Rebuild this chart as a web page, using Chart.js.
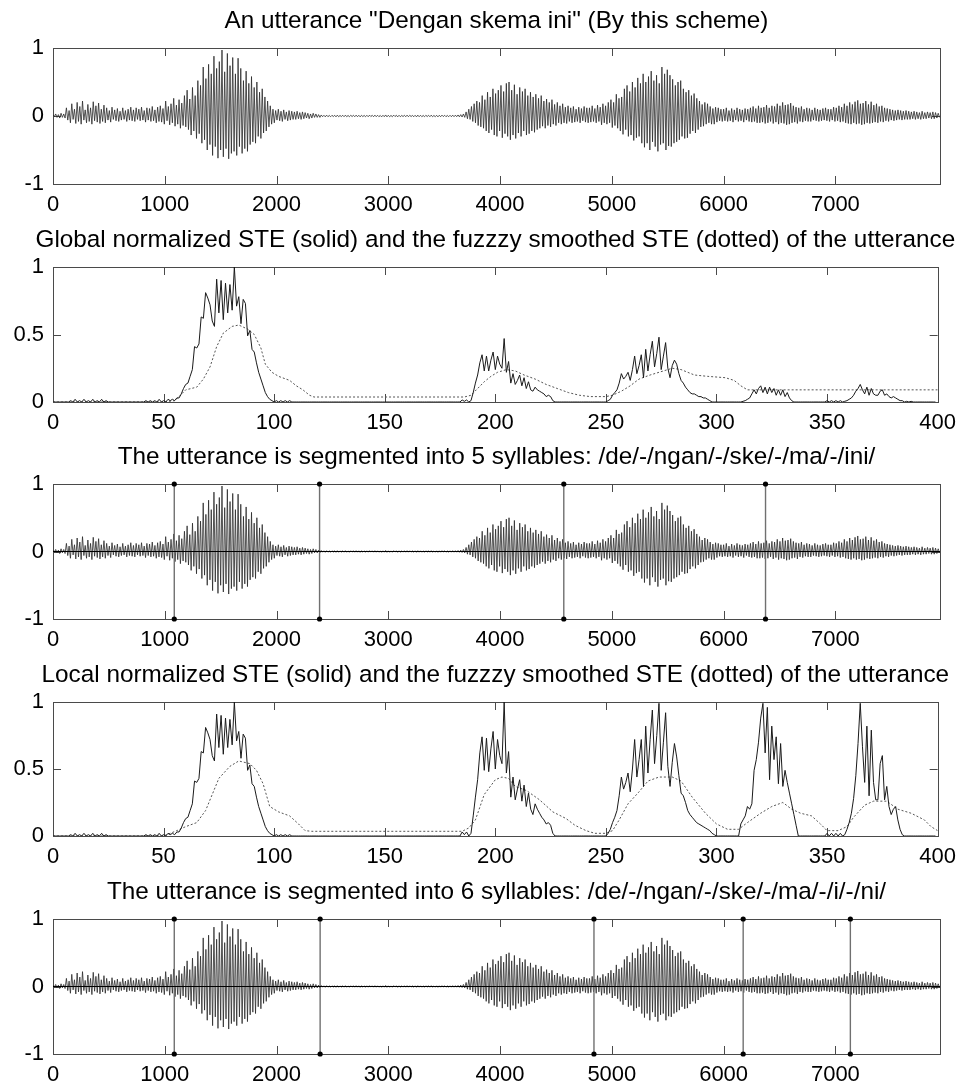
<!DOCTYPE html>
<html>
<head>
<meta charset="utf-8">
<script src="https://cdn.jsdelivr.net/npm/chart.js@4.4.1/dist/chart.umd.min.js"></script>
<style>
html,body{margin:0;padding:0;background:#fff;}
body{width:964px;height:1087px;position:relative;overflow:hidden;}
.panel{position:absolute;left:0;width:964px;}
canvas{display:block;}
</style>
</head>
<body>
<div class="panel" id="w1"><canvas id="c1"></canvas></div>
<div class="panel" id="w2"><canvas id="c2"></canvas></div>
<div class="panel" id="w3"><canvas id="c3"></canvas></div>
<div class="panel" id="w4"><canvas id="c4"></canvas></div>
<div class="panel" id="w5"><canvas id="c5"></canvas></div>
<script>
// ---- axis ticks ----
const sampleTicks = [0, 1000, 2000, 3000, 4000, 5000, 6000, 7000];
const ampTicks = [-1, 0, 1];
const frameTicks = [0, 50, 100, 150, 200, 250, 300, 350, 400];
const steTicks = [0, 0.5, 1];

// ---- speech waveform: successive extremes, one every WAVE_STEP samples ----
const WAVE_LEN = 7936;
const WAVE_STEP = 12;
const waveAmp = [
  0.02,-0.01,0.03,-0.02,0.02,-0.03,0.04,-0.02,0.03,-0.03,0.12,-0.06,0.08,-0.10,0.18,-0.05,0.10,-0.11,0.20,-0.08,
  0.14,-0.12,0.22,-0.06,0.09,-0.10,0.17,-0.08,0.12,-0.12,0.21,-0.07,0.15,-0.09,0.19,-0.11,0.10,-0.08,0.16,-0.10,
  0.12,-0.06,0.08,-0.09,0.13,-0.05,0.09,-0.07,0.11,-0.08,0.07,-0.06,0.12,-0.05,0.08,-0.08,0.10,-0.06,0.13,-0.07,
  0.09,-0.08,0.12,-0.05,0.10,-0.07,0.13,-0.06,0.08,-0.09,0.12,-0.06,0.11,-0.08,0.14,-0.07,0.09,-0.10,0.13,-0.08,
  0.15,-0.09,0.11,-0.12,0.22,-0.07,0.14,-0.13,0.18,-0.10,0.26,-0.15,0.16,-0.12,0.24,-0.18,0.19,-0.14,0.30,-0.16,
  0.38,-0.20,0.25,-0.28,0.42,-0.22,0.30,-0.33,0.52,-0.26,0.45,-0.40,0.72,-0.35,0.55,-0.50,0.76,-0.42,0.62,-0.58,
  0.88,-0.45,0.70,-0.62,0.80,-0.50,0.97,-0.60,0.65,-0.48,0.92,-0.63,0.74,-0.55,0.86,-0.52,0.62,-0.58,0.85,-0.45,
  0.70,-0.55,0.52,-0.48,0.66,-0.52,0.48,-0.42,0.58,-0.38,0.42,-0.40,0.50,-0.30,0.35,-0.33,0.40,-0.25,0.28,-0.22,
  0.22,-0.16,0.15,-0.12,0.10,-0.10,0.08,-0.06,0.10,-0.07,0.07,-0.08,0.09,-0.05,0.06,-0.07,0.08,-0.06,0.07,-0.05,
  0.06,-0.05,0.07,-0.04,0.05,-0.05,0.06,-0.04,0.05,-0.03,0.04,-0.04,0.03,-0.03,0.04,-0.02,0.03,-0.02,0.02,-0.02,
  0.015,-0.01,0.01,-0.012,0.012,-0.01,0.008,-0.01,0.01,-0.008,0.01,-0.012,0.012,-0.01,0.008,-0.008,0.01,-0.01,0.012,-0.01,
  0.008,-0.01,0.01,-0.008,0.01,-0.01,0.012,-0.01,0.01,-0.012,0.01,-0.008,0.008,-0.01,0.01,-0.01,0.012,-0.008,0.01,-0.01,
  0.012,-0.01,0.01,-0.01,0.008,-0.012,0.01,-0.01,0.015,-0.012,0.01,-0.01,0.008,-0.01,0.012,-0.008,0.01,-0.012,0.01,-0.01,
  0.008,-0.008,0.01,-0.01,0.012,-0.01,0.01,-0.008,0.008,-0.01,0.01,-0.012,0.012,-0.01,0.01,-0.01,0.008,-0.01,0.01,-0.008,
  0.01,-0.01,0.012,-0.01,0.008,-0.01,0.01,-0.012,0.01,-0.01,0.012,-0.008,0.01,-0.01,0.008,-0.01,0.01,-0.01,0.012,-0.01,
  0.012,-0.01,0.015,-0.012,0.02,-0.015,0.03,-0.02,0.06,-0.04,0.10,-0.05,0.14,-0.08,0.18,-0.10,0.22,-0.14,0.20,-0.16,
  0.30,-0.18,0.24,-0.22,0.35,-0.25,0.28,-0.20,0.40,-0.28,0.33,-0.30,0.38,-0.22,0.45,-0.32,0.36,-0.26,0.48,-0.30,
  0.50,-0.35,0.38,-0.28,0.46,-0.33,0.32,-0.25,0.42,-0.30,0.36,-0.22,0.40,-0.28,0.30,-0.26,0.35,-0.22,0.28,-0.24,
  0.32,-0.20,0.26,-0.18,0.30,-0.15,0.22,-0.18,0.25,-0.14,0.20,-0.16,0.24,-0.12,0.17,-0.14,0.20,-0.10,0.15,-0.12,
  0.18,-0.10,0.13,-0.11,0.15,-0.08,0.12,-0.10,0.14,-0.09,0.10,-0.08,0.13,-0.10,0.11,-0.07,0.14,-0.09,0.12,-0.10,
  0.12,-0.09,0.15,-0.08,0.11,-0.10,0.16,-0.08,0.13,-0.13,0.18,-0.10,0.15,-0.12,0.20,-0.10,0.24,-0.17,0.20,-0.14,
  0.32,-0.18,0.26,-0.22,0.28,-0.27,0.40,-0.20,0.45,-0.30,0.36,-0.28,0.50,-0.36,0.42,-0.32,0.56,-0.30,0.48,-0.40,
  0.62,-0.46,0.50,-0.40,0.58,-0.50,0.66,-0.38,0.52,-0.45,0.60,-0.52,0.48,-0.42,0.72,-0.40,0.62,-0.50,0.68,-0.44,
  0.60,-0.45,0.54,-0.40,0.45,-0.38,0.50,-0.35,0.52,-0.30,0.40,-0.33,0.35,-0.32,0.38,-0.26,0.30,-0.22,0.33,-0.25,
  0.26,-0.20,0.22,-0.16,0.17,-0.15,0.20,-0.12,0.18,-0.10,0.14,-0.12,0.11,-0.12,0.13,-0.09,0.12,-0.07,0.10,-0.08,
  0.10,-0.07,0.12,-0.08,0.08,-0.07,0.11,-0.09,0.09,-0.06,0.12,-0.08,0.10,-0.07,0.09,-0.09,0.11,-0.06,0.10,-0.08,
  0.12,-0.09,0.14,-0.08,0.11,-0.10,0.15,-0.10,0.12,-0.09,0.13,-0.11,0.16,-0.10,0.12,-0.08,0.15,-0.11,0.14,-0.09,
  0.18,-0.12,0.15,-0.10,0.20,-0.11,0.16,-0.13,0.17,-0.12,0.19,-0.10,0.15,-0.09,0.13,-0.11,0.12,-0.08,0.14,-0.09,
  0.10,-0.07,0.12,-0.08,0.11,-0.08,0.09,-0.06,0.12,-0.07,0.10,-0.08,0.09,-0.07,0.11,-0.06,0.12,-0.07,0.10,-0.08,
  0.10,-0.06,0.13,-0.08,0.12,-0.07,0.15,-0.09,0.13,-0.08,0.18,-0.10,0.15,-0.11,0.20,-0.12,0.17,-0.10,0.21,-0.12,
  0.23,-0.11,0.18,-0.13,0.19,-0.12,0.22,-0.10,0.17,-0.11,0.21,-0.10,0.16,-0.09,0.18,-0.10,0.14,-0.08,0.15,-0.09,
  0.12,-0.07,0.11,-0.08,0.10,-0.06,0.09,-0.07,0.08,-0.06,0.09,-0.05,0.08,-0.06,0.07,-0.05,0.08,-0.05,0.07,-0.05,
  0.06,-0.04,0.07,-0.05,0.06,-0.04,0.05,-0.05,0.07,-0.04,0.05,-0.04,0.06,-0.03,0.05,-0.04,0.06,-0.04,0.05,-0.03,
  0.04,-0.02
];

// ---- syllable boundaries (sample index) ----
const bounds5 = [1085, 2385, 4570, 6375];
const bounds6 = [1085, 2390, 4840, 6175, 7134];

// ---- short-time energy, one value per frame (0..399) ----
const globalSTE = [
  0,0,0,0,0,0,0,0,0.01,0,
  0.02,0,0.01,0,0.02,0,0.01,0,0.02,0,
  0.01,0,0.02,0,0.01,0,0,0,0,0,
  0,0,0,0,0,0,0,0,0,0,
  0,0,0.01,0,0.01,0,0.01,0,0.02,0,
  0.01,0,0.02,0.01,0.02,0.01,0.03,0.03,0.06,0.10,
  0.13,0.14,0.19,0.24,0.41,0.40,0.43,0.63,0.62,0.81,
  0.77,0.72,0.60,0.56,0.91,0.66,0.90,0.61,0.88,0.66,
  0.87,0.68,1.00,0.71,0.78,0.58,0.76,0.73,0.49,0.53,
  0.39,0.37,0.29,0.22,0.17,0.12,0.07,0.04,0.02,0.01,
  0,0.01,0,0.01,0,0.01,0,0.01,0,0,
  0,0,0,0,0,0,0,0,0,0,
  0,0,0,0,0,0,0,0,0,0,
  0,0,0,0,0,0,0,0,0,0,
  0,0,0,0,0,0,0,0,0,0,
  0,0,0,0,0,0,0,0,0,0,
  0,0,0,0,0,0,0,0,0,0,
  0,0,0,0,0,0,0,0,0,0,
  0,0,0,0,0,0.015,0.005,0.015,0,0.01,
  0.07,0.14,0.20,0.29,0.35,0.23,0.34,0.23,0.31,0.37,
  0.24,0.34,0.28,0.25,0.47,0.22,0.30,0.14,0.21,0.13,
  0.16,0.20,0.12,0.18,0.10,0.15,0.09,0.08,0.11,0.09,
  0.08,0.07,0.06,0.04,0.05,0.04,0.01,0,0,0,
  0,0,0,0,0,0,0,0,0,0,
  0,0,0,0,0,0,0,0,0,0,
  0,0.01,0.02,0.05,0.07,0.09,0.14,0.21,0.17,0.19,
  0.22,0.16,0.24,0.34,0.21,0.27,0.35,0.18,0.39,0.23,
  0.35,0.45,0.26,0.36,0.48,0.24,0.34,0.44,0.25,0.18,
  0.27,0.31,0.28,0.21,0.16,0.14,0.11,0.09,0.07,0.06,
  0.06,0.05,0.04,0.04,0.03,0.03,0.02,0.01,0,0,
  0,0,0,0,0,0,0,0,0,0,
  0,0,0.005,0.01,0.02,0.03,0.06,0.09,0.06,0.10,
  0.12,0.07,0.11,0.06,0.11,0.07,0.10,0.05,0.09,0.05,
  0.09,0.04,0.07,0.03,0.01,0,0,0,0,0,
  0,0,0,0,0,0,0,0,0,0,
  0.01,0,0.01,0,0.01,0,0.01,0,0.005,0.01,
  0.02,0.03,0.05,0.08,0.10,0.13,0.09,0.06,0.11,0.05,
  0.10,0.06,0.05,0.05,0.08,0.09,0.05,0.06,0.04,0.03,
  0.04,0.03,0.02,0.01,0.01,0,0.005,0,0.005,0,
  0,0,0,0,0,0,0,0,0,0
];
const localSTE = [
  0,0,0,0,0,0,0,0,0.01,0,
  0.02,0,0.01,0,0.02,0,0.01,0,0.02,0,
  0.01,0,0.02,0,0.01,0,0,0,0,0,
  0,0,0,0,0,0,0,0,0,0,
  0,0,0.01,0,0.01,0,0.01,0,0.02,0,
  0.01,0,0.02,0.01,0.02,0.01,0.03,0.03,0.06,0.10,
  0.13,0.14,0.19,0.24,0.41,0.40,0.43,0.63,0.62,0.81,
  0.77,0.72,0.60,0.56,0.91,0.66,0.90,0.61,0.88,0.66,
  0.87,0.68,1.00,0.71,0.78,0.58,0.76,0.73,0.49,0.53,
  0.39,0.37,0.29,0.22,0.17,0.12,0.07,0.04,0.02,0.01,
  0,0.01,0,0.01,0,0.01,0,0.01,0,0,
  0,0,0,0,0,0,0,0,0,0,
  0,0,0,0,0,0,0,0,0,0,
  0,0,0,0,0,0,0,0,0,0,
  0,0,0,0,0,0,0,0,0,0,
  0,0,0,0,0,0,0,0,0,0,
  0,0,0,0,0,0,0,0,0,0,
  0,0,0,0,0,0,0,0,0,0,
  0,0,0,0,0,0.03,0.01,0.03,0,0.02,
  0.15,0.29,0.42,0.62,0.74,0.49,0.73,0.48,0.65,0.78,
  0.50,0.72,0.60,0.54,1.00,0.47,0.63,0.29,0.44,0.27,
  0.35,0.42,0.26,0.38,0.22,0.32,0.20,0.16,0.24,0.20,
  0.17,0.14,0.12,0.09,0.10,0.08,0.02,0,0,0,
  0,0,0,0,0,0,0,0,0,0,
  0,0,0,0,0,0,0,0,0,0,
  0,0.02,0.05,0.10,0.14,0.19,0.30,0.44,0.35,0.40,
  0.47,0.33,0.50,0.72,0.44,0.57,0.72,0.37,0.82,0.47,
  0.72,0.94,0.54,0.75,0.99,0.49,0.70,0.92,0.52,0.37,
  0.55,0.69,0.59,0.45,0.32,0.30,0.25,0.19,0.16,0.14,
  0.12,0.10,0.09,0.08,0.07,0.06,0.05,0.04,0.02,0.01,
  0,0,0,0,0,0,0,0,0,0,
  0,0.09,0.12,0.15,0.22,0.20,0.24,0.49,0.57,0.70,
  0.88,0.99,0.62,0.96,0.42,0.82,0.57,0.74,0.39,0.69,
  0.37,0.49,0.40,0.32,0.24,0.16,0.08,0,0,0,
  0,0,0,0,0,0,0,0,0,0,
  0.02,0,0.02,0,0.02,0,0.02,0,0.01,0.05,
  0.10,0.17,0.28,0.45,0.69,0.99,0.67,0.40,0.82,0.30,
  0.79,0.40,0.27,0.27,0.54,0.60,0.27,0.37,0.22,0.16,
  0.20,0.22,0.12,0.05,0.01,0,0,0,0,0,
  0,0,0,0,0,0,0,0,0,0
];

// ---- fuzzy smoothed STE, sampled at the listed frames ----
const globalSmoothFrames = [0,50,55,57,60,65,68,71,74,77,81,84,88,91,94,96,99,102,107,110,113,116,118,186,189,192,195,198,201,205,209,213,218,223,228,233,238,243,250,253,257,261,265,270,274,280,284,290,296,304,308,311,314,400];
const globalSmooth =       [0,0,0.01,0.04,0.09,0.11,0.17,0.26,0.41,0.51,0.56,0.57,0.54,0.50,0.40,0.28,0.22,0.19,0.16,0.12,0.09,0.05,0.037,0.037,0.05,0.10,0.15,0.19,0.22,0.24,0.23,0.20,0.17,0.13,0.10,0.07,0.05,0.04,0.04,0.05,0.08,0.12,0.17,0.20,0.22,0.25,0.24,0.20,0.19,0.18,0.16,0.12,0.09,0.09];
const localSmoothFrames = [0,50,56,60,65,69,72,75,80,84,89,92,95,98,102,107,111,114,117,185,188,191,195,200,203,206,209,214,220,226,232,236,241,245,250,253,256,260,265,269,274,280,284,289,295,300,305,310,314,320,325,330,334,338,343,347,350,355,359,362,367,371,377,382,388,394,397,400];
const localSmooth =       [0,0,0.04,0.07,0.10,0.19,0.31,0.43,0.52,0.56,0.54,0.49,0.39,0.22,0.18,0.15,0.09,0.04,0.035,0.035,0.06,0.12,0.31,0.42,0.44,0.43,0.37,0.34,0.27,0.18,0.13,0.08,0.04,0.02,0.02,0.04,0.12,0.24,0.33,0.41,0.44,0.44,0.41,0.29,0.17,0.09,0.05,0.05,0.10,0.17,0.22,0.25,0.20,0.17,0.15,0.09,0.04,0.04,0.07,0.14,0.23,0.26,0.26,0.20,0.17,0.12,0.07,0.04];

// ---- titles ----
const titles = [
  'An utterance "Dengan skema ini" (By this scheme)',
  'Global normalized STE (solid) and the fuzzzy smoothed STE (dotted) of the utterance',
  'The utterance is segmented into 5 syllables: /de/-/ngan/-/ske/-/ma/-/ini/',
  'Local normalized STE (solid) and the fuzzzy smoothed STE (dotted) of the utterance',
  'The utterance is segmented into 6 syllables: /de/-/ngan/-/ske/-/ma/-/i/-/ni/'
];

const FONT = "'Liberation Sans', Arial, Helvetica, sans-serif";
const TITLE_SIZE = 24.3;
const TITLE_BOX = 48;   // space above each plot for its title
const TITLE_BASE = 20;  // title baseline, measured up from the top of the plot
const XAXIS_BOX = 34;   // space below each plot for tick labels
const YAXIS_BOX = 53;   // space left of each plot for tick labels

// Title centred over the plot area (not over the whole canvas)
const axesTitle = {
  id: 'axesTitle',
  afterDraw(chart, args, opts) {
    const { ctx, chartArea: a } = chart;
    ctx.save();
    ctx.font = `normal ${TITLE_SIZE}px ${FONT}`;
    ctx.fillStyle = '#000';
    ctx.textAlign = 'center';
    ctx.textBaseline = 'alphabetic';
    ctx.fillText(opts.text, (a.left + a.right) / 2, a.top - TITLE_BASE);
    ctx.restore();
  }
};

// Axes box with inward tick marks on all four sides
const axesBox = {
  id: 'axesBox',
  beforeDatasetsDraw(chart) {
    const { ctx, chartArea: a, scales: { x, y } } = chart;
    const L = 8;
    ctx.save();
    ctx.strokeStyle = '#4a4a4a';
    ctx.lineWidth = 1;
    ctx.strokeRect(Math.round(a.left) + 0.5, Math.round(a.top) + 0.5,
                   Math.round(a.right - a.left), Math.round(a.bottom - a.top));
    ctx.beginPath();
    x.ticks.forEach(t => {
      const px = Math.round(x.getPixelForValue(t.value)) + 0.5;
      ctx.moveTo(px, a.bottom); ctx.lineTo(px, a.bottom - L);
      ctx.moveTo(px, a.top); ctx.lineTo(px, a.top + L);
    });
    y.ticks.forEach(t => {
      const py = Math.round(y.getPixelForValue(t.value)) + 0.5;
      ctx.moveTo(a.left, py); ctx.lineTo(a.left + L, py);
      ctx.moveTo(a.right, py); ctx.lineTo(a.right - L, py);
    });
    ctx.stroke();
    ctx.restore();
  }
};

function makePanel(canvasId, plotTop, plotH, title, xMax, xTicks, yMin, yMax, yTicks, datasets) {
  const cv = document.getElementById(canvasId);
  const H = TITLE_BOX + plotH + XAXIS_BOX;
  cv.width = 964; cv.height = H;
  cv.style.width = '964px'; cv.style.height = H + 'px';
  cv.parentNode.style.top = (plotTop - TITLE_BOX) + 'px';
  const tickFont = { family: FONT, size: 22 };
  return new Chart(cv, {
    type: 'line',
    data: { datasets },
    options: {
      responsive: false,
      animation: false,
      devicePixelRatio: 1,
      events: [],
      layout: { padding: { left: 0, right: 964 - 940, top: TITLE_BOX, bottom: 0 } },
      elements: { point: { radius: 0 }, line: { tension: 0 } },
      plugins: {
        legend: { display: false },
        tooltip: { enabled: false },
        title: { display: false },
        axesTitle: { text: title }
      },
      scales: {
        x: {
          type: 'linear', min: 0, max: xMax,
          grid: { display: false, drawTicks: false },
          border: { display: false },
          afterBuildTicks(s) { s.ticks = xTicks.map(v => ({ value: v })); },
          afterFit(s) { s.height = XAXIS_BOX; },
          ticks: { autoSkip: false, maxRotation: 0, padding: 8, color: '#000', font: tickFont,
                   callback: v => String(v) }
        },
        y: {
          type: 'linear', min: yMin, max: yMax,
          grid: { display: false, drawTicks: false },
          border: { display: false },
          afterBuildTicks(s) { s.ticks = yTicks.map(v => ({ value: v })); },
          afterFit(s) { s.width = YAXIS_BOX; },
          ticks: { padding: 9, color: '#000', font: tickFont, callback: v => String(v) }
        }
      }
    },
    plugins: [axesBox, axesTitle]
  });
}

function waveSeries() {
  return {
    data: waveAmp.map((v, i) => ({ x: i * WAVE_STEP, y: v })),
    borderColor: '#2a2a2a', borderWidth: 0.8, pointRadius: 0
  };
}
function zeroLine() {
  return {
    data: [{ x: 0, y: 0 }, { x: WAVE_LEN, y: 0 }],
    borderColor: '#000', borderWidth: 1, pointRadius: 0
  };
}
function boundarySeries(b) {
  return {
    data: [{ x: b, y: -1 }, { x: b, y: 1 }],
    borderColor: '#707070', borderWidth: 1.4,
    pointRadius: 2.6, pointBackgroundColor: '#000', pointBorderWidth: 0,
    clip: false
  };
}
function steSeries(values) {
  return {
    data: values.map((v, f) => ({ x: f, y: v })),
    borderColor: '#1a1a1a', borderWidth: 1, pointRadius: 0
  };
}
function smoothSeries(frames, values) {
  return {
    data: frames.map((f, k) => ({ x: f, y: values[k] })),
    borderColor: '#555', borderWidth: 1, borderDash: [2, 2], pointRadius: 0
  };
}

makePanel('c1', 48, 136, titles[0], WAVE_LEN, sampleTicks, -1, 1, ampTicks,
  [waveSeries()]);
makePanel('c2', 267, 135, titles[1], 400, frameTicks, 0, 1, steTicks,
  [steSeries(globalSTE), smoothSeries(globalSmoothFrames, globalSmooth)]);
makePanel('c3', 484, 135, titles[2], WAVE_LEN, sampleTicks, -1, 1, ampTicks,
  [zeroLine(), ...bounds5.map(boundarySeries), waveSeries()]);
makePanel('c4', 702, 134, titles[3], 400, frameTicks, 0, 1, steTicks,
  [steSeries(localSTE), smoothSeries(localSmoothFrames, localSmooth)]);
makePanel('c5', 919, 135, titles[4], WAVE_LEN, sampleTicks, -1, 1, ampTicks,
  [zeroLine(), ...bounds6.map(boundarySeries), waveSeries()]);
</script>
</body>
</html>
